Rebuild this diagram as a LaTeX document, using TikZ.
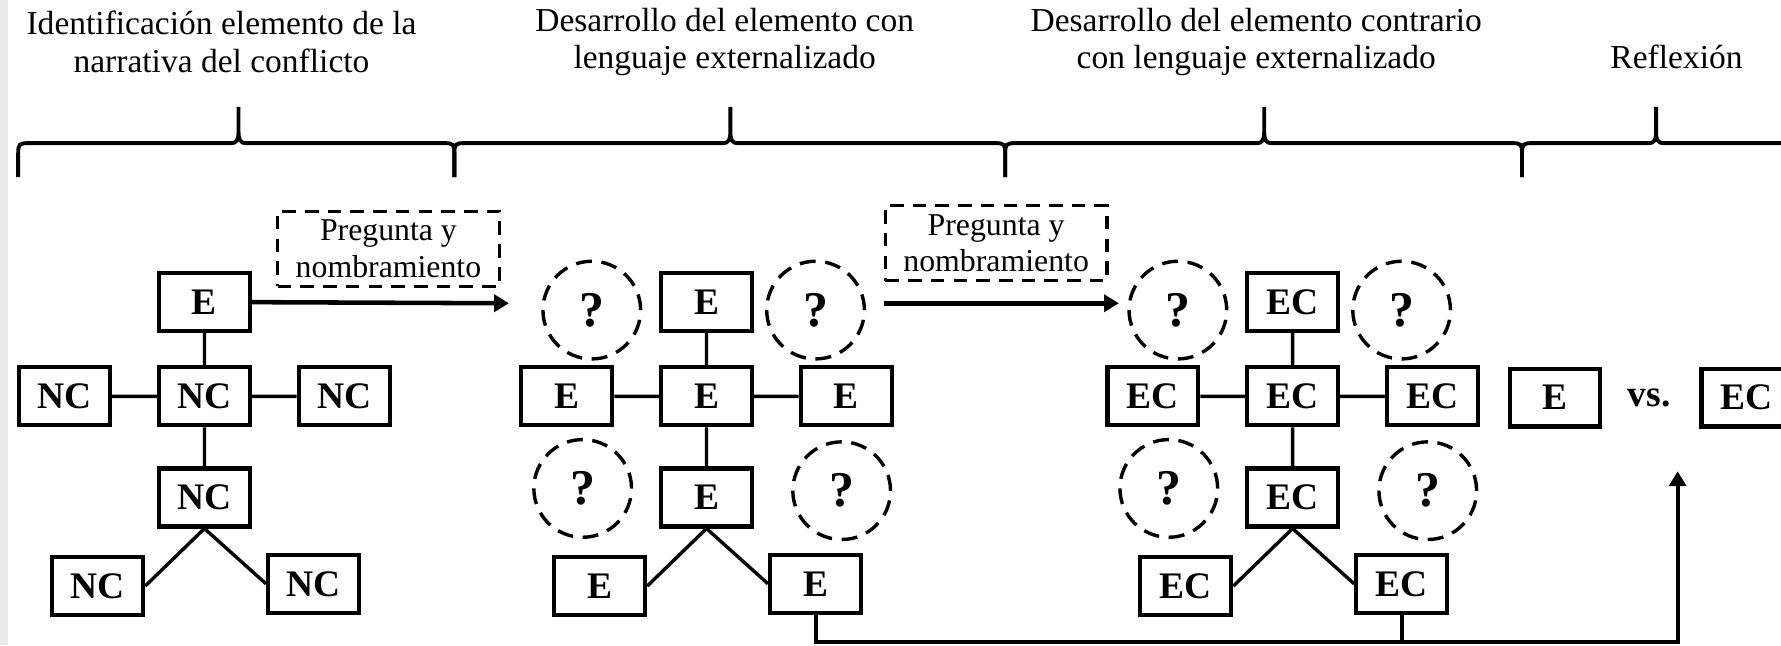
\documentclass[tikz,border=0pt]{standalone}
\usepackage{fontspec}
\setmainfont{Liberation Serif}
\usetikzlibrary{arrows.meta}

\begin{document}
\begin{tikzpicture}[x=1pt,y=-1pt,>={Triangle[length=13pt,width=15pt]},
    box/.style={draw,line width=3.6pt,minimum width=80pt,minimum height=51pt,inner sep=0pt,
      font=\fontsize{33}{33}\selectfont\bfseries},
    qmark/.style={draw,circle,line width=3pt,dash pattern=on 14pt off 8.5pt,minimum size=86pt,
      inner sep=0pt,font=\fontsize{44}{44}\selectfont\bfseries},
    ask/.style={draw,line width=3pt,dash pattern=on 12pt off 8pt,minimum width=195pt,
      minimum height=66pt,inner sep=0pt,align=center,font=\fontsize{28}{32}\selectfont},
    head/.style={align=center,font=\fontsize{29.5}{33}\selectfont},
    link/.style={line width=3pt}]
  \useasboundingbox (0,0) rectangle (1568,568);
  \clip (0,0) rectangle (1568,568);
  \fill[black!8] (0,0) rectangle (7,568);
  % headings
  \node[head] (h1) at (195,37) {Identificación elemento de la\\narrativa del conflicto};
  \node[head] (h2) at (638,37) {Desarrollo del elemento con\\lenguaje externalizado};
  \node[head] (h3) at (1106,37) {Desarrollo del elemento contrario\\con lenguaje externalizado};
  \node[head] (h4) at (1476,50) {Reflexión};
  % braces
  \foreach \a/\m/\b in {16/210/400,400/643/885,885/1113/1340,1340/1458/1620}
    \draw[line width=3.4pt]
      (\a,156) -- (\a,135) .. controls (\a,127) and (\a+1,126) .. (\a+9,126)
      -- (\m-7,126) .. controls (\m-1,126) and (\m,123) .. (\m,115) -- (\m,94)
      -- (\m,115) .. controls (\m,123) and (\m+1,126) .. (\m+7,126)
      -- (\b-9,126) .. controls (\b-1,126) and (\b,127) .. (\b,135) -- (\b,156);
  % the three networks
  \foreach \n/\cx/\t/\l in {a/180/E/NC,b/622/E/E,c/1138/EC/EC}{
    \node[box] (\n-mid) at (\cx,349) {\l};
    \node[box] (\n-top) at (\cx,266) {\t};
    \node[box] (\n-left) at (\cx-123,349) {\l};
    \node[box] (\n-right) at (\cx+123,349) {\l};
    \node[box] (\n-low) at (\cx,438) {\l};
    \node[box] (\n-bl) at (\cx-94,516) {\l};
    \node[box] (\n-br) at (\cx+96,514) {\l};
    \draw[link] (\n-top) -- (\n-mid) (\n-left) -- (\n-mid) (\n-mid) -- (\n-right)
      (\n-mid) -- (\n-low) (\n-low.south) -- (\n-bl.east) (\n-low.south) -- (\n-br.west);
  }
  \foreach \n/\cx in {b/622,c/1138}{
    \node[qmark] (\n-q1) at (\cx-101,273) {?};
    \node[qmark] (\n-q2) at (\cx+96,273) {?};
    \node[qmark] (\n-q3) at (\cx-109,430) {?};
    \node[qmark] (\n-q4) at (\cx+119,432) {?};
  }
  % reflexion
  \node[box] (r-e) at (1369,350) {E};
  \node[font=\fontsize{33}{33}\selectfont\bfseries] (vs) at (1452,350) {vs.};
  \node[box] (r-ec) at (1538,350) {EC};
  % questions and arrows
  \node[ask] (ask1) at (342,219) {Pregunta y\\nombramiento};
  \node[ask] (ask2) at (877,214) {Pregunta y\\nombramiento};
  \coordinate (go1) at (448,267);
  \coordinate (from2) at (778,267);
  \coordinate (go2) at (985,267);
  \draw[->,line width=4pt] (a-top.east) -- (go1);
  \draw[->,line width=4pt] (from2) -- (go2);
  \coordinate (turn) at (1477,565);
  \coordinate (tip) at (1477,415);
  \draw[->,line width=3.6pt] (b-br.south) |- (turn) -- (tip);
  \draw[line width=3.6pt] (c-br.south) -- (c-br.south |- turn);
\end{tikzpicture}
\end{document}
